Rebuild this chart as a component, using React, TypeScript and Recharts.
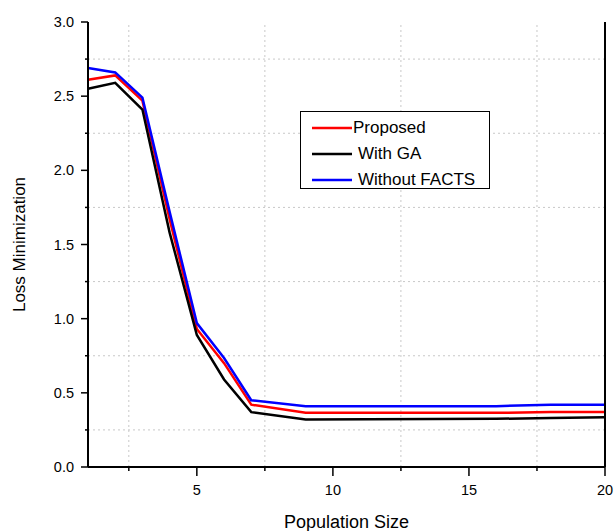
import React from "react";
import { LineChart, Line, XAxis, YAxis, ReferenceLine, Legend } from "recharts";

const populationSize = [1, 2, 3, 4, 5, 6, 7, 9, 16, 18, 20];
const proposed = [2.61, 2.64, 2.47, 1.67, 0.93, 0.7, 0.42, 0.365, 0.365, 0.37, 0.37];
const withGA = [2.55, 2.59, 2.41, 1.58, 0.89, 0.59, 0.37, 0.32, 0.325, 0.33, 0.335];
const withoutFACTS = [2.69, 2.66, 2.49, 1.72, 0.97, 0.735, 0.45, 0.41, 0.41, 0.42, 0.42];

const xTicks = [2.5, 5, 7.5, 10, 12.5, 15, 17.5, 20];
const yTicks = [0, 0.25, 0.5, 0.75, 1, 1.25, 1.5, 1.75, 2, 2.25, 2.5, 2.75, 3];
const xGrid = [2.5, 7.5, 12.5, 17.5];
const yGrid = [0.25, 0.75, 1.25, 1.75, 2.25, 2.75];

const seriesNames = ["Proposed", "With GA", "Without FACTS"];
const seriesColors = ["#ff0000", "#000000", "#0000ff"];

const data = populationSize.map((x, i) => ({
  x,
  proposed: proposed[i],
  withGA: withGA[i],
  withoutFACTS: withoutFACTS[i],
}));

const FONT = "'Liberation Sans', Arial, sans-serif";

const BottomTick = (props: any) => {
  const { x, y, payload } = props;
  const major = payload.value % 5 === 0;
  return (
    <g>
      <line x1={x} x2={x} y1={y} y2={y + (major ? 9 : 4)} stroke="#000" strokeWidth={1.5} />
      {major && (
        <text x={x} y={y + 28} textAnchor="middle" fontSize={14.5} fontFamily={FONT} fill="#000">
          {payload.value}
        </text>
      )}
    </g>
  );
};

const TopTick = (props: any) => {
  const { x, y, payload } = props;
  const major = payload.value % 5 === 0;
  return <line x1={x} x2={x} y1={y} y2={y - (major ? 9 : 4)} stroke="#000" strokeWidth={1.5} />;
};

const LeftTick = (props: any) => {
  const { x, y, payload } = props;
  const major = Math.abs(payload.value * 2 - Math.round(payload.value * 2)) < 1e-6;
  return (
    <g>
      <line x1={x} x2={x - (major ? 7 : 3)} y1={y} y2={y} stroke="#000" strokeWidth={1.5} />
      {major && (
        <text x={x - 14} y={y + 5} textAnchor="end" fontSize={14.5} fontFamily={FONT} fill="#000">
          {payload.value.toFixed(1)}
        </text>
      )}
    </g>
  );
};

const RightTick = (props: any) => {
  const { x, y, payload } = props;
  const major = Math.abs(payload.value * 2 - Math.round(payload.value * 2)) < 1e-6;
  return <line x1={x} x2={x + (major ? 7 : 3)} y1={y} y2={y} stroke="#000" strokeWidth={1.5} />;
};

const LegendBox = (props: any) => {
  const { payload } = props;
  return (
    <div
      style={{
        width: 190,
        height: 78,
        border: "1px solid #000",
        background: "#fff",
        boxSizing: "border-box",
        fontFamily: FONT,
        fontSize: 17,
        color: "#000",
        paddingTop: 3,
      }}
    >
      {(payload || []).map((p: any, i: number) => (
        <div key={i} style={{ display: "flex", alignItems: "center", height: 26, paddingLeft: 11 }}>
          <svg width={40} height={4} style={{ display: "block" }}>
            <line x1={0} x2={40} y1={2} y2={2} stroke={p.color} strokeWidth={2.5} />
          </svg>
          <span style={{ marginLeft: i === 0 ? 1 : 6, whiteSpace: "nowrap" }}>{p.value}</span>
        </div>
      ))}
    </div>
  );
};

export default function App() {
  return (
    <div style={{ position: "absolute", left: 0, top: 0, width: 614, height: 531, background: "#fff" }}>
      <LineChart width={614} height={531} data={data} margin={{ top: 22, right: 0, bottom: 0, left: 0 }}>
        <XAxis
          dataKey="x"
          type="number"
          domain={[1, 20]}
          ticks={xTicks}
          interval={0}
          height={64}
          tickSize={0}
          tickMargin={0}
          tick={<BottomTick />}
          axisLine={{ stroke: "#000", strokeWidth: 2 }}
          tickLine={false}
          label={{ value: "Population Size", position: "insideBottom", offset: 3, fontSize: 18, fontFamily: FONT, fill: "#000" }}
        />
        <XAxis
          xAxisId="top"
          orientation="top"
          dataKey="x"
          type="number"
          domain={[1, 20]}
          ticks={xTicks}
          interval={0}
          height={0}
          tickSize={0}
          tickMargin={0}
          tick={<TopTick />}
          axisLine={{ stroke: "#000", strokeWidth: 2 }}
          tickLine={false}
        />
        <YAxis
          type="number"
          domain={[0, 3]}
          ticks={yTicks}
          interval={0}
          width={88}
          tickSize={0}
          tickMargin={0}
          tick={<LeftTick />}
          axisLine={{ stroke: "#000", strokeWidth: 2 }}
          tickLine={false}
          label={{ value: "Loss Minimization", angle: -90, position: "insideLeft", offset: 19, fontSize: 17, fontFamily: FONT, fill: "#000", style: { textAnchor: "middle" } }}
        />
        <YAxis
          yAxisId="right"
          orientation="right"
          type="number"
          domain={[0, 3]}
          ticks={yTicks}
          interval={0}
          width={9}
          tickSize={0}
          tickMargin={0}
          tick={<RightTick />}
          axisLine={{ stroke: "#000", strokeWidth: 2 }}
          tickLine={false}
        />
        {xGrid.map((v) => (
          <ReferenceLine key={"gx" + v} x={v} stroke="#c8c8c8" strokeDasharray="2 3" strokeWidth={1} />
        ))}
        {yGrid.map((v) => (
          <ReferenceLine key={"gy" + v} y={v} stroke="#c8c8c8" strokeDasharray="2 3" strokeWidth={1} />
        ))}
        <Legend
          content={<LegendBox />}
          layout="vertical"
          verticalAlign="middle"
          align="center"
          wrapperStyle={{ left: 300, top: 111, width: 190, height: 78 }}
        />
        <Line type="linear" dataKey="proposed" name={seriesNames[0]} stroke={seriesColors[0]} strokeWidth={2.5} dot={false} isAnimationActive={false} />
        <Line type="linear" dataKey="withGA" name={seriesNames[1]} stroke={seriesColors[1]} strokeWidth={2.5} dot={false} isAnimationActive={false} />
        <Line type="linear" dataKey="withoutFACTS" name={seriesNames[2]} stroke={seriesColors[2]} strokeWidth={2.5} dot={false} isAnimationActive={false} />
      </LineChart>
    </div>
  );
}
